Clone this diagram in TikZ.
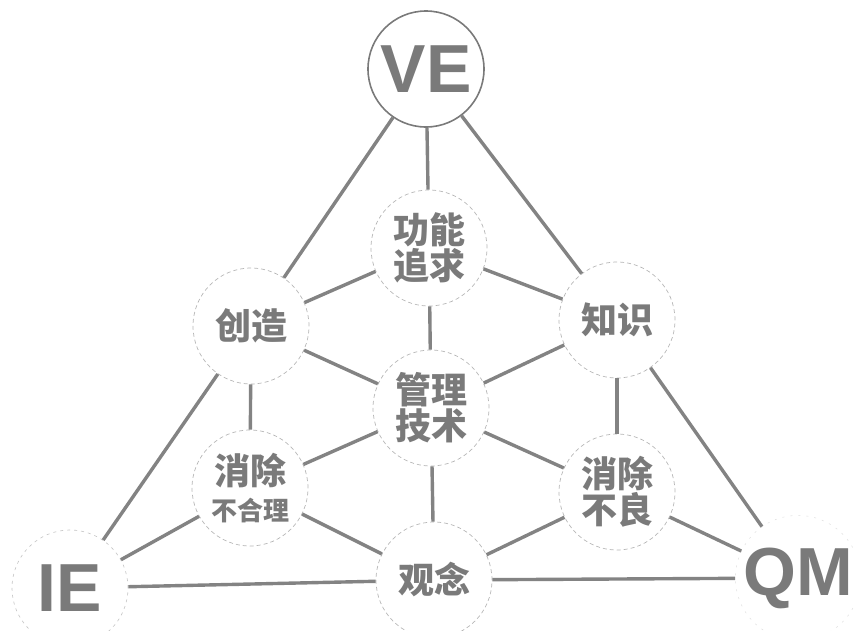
\documentclass[tikz,border=0pt]{standalone}
\usepackage{fontspec}
\setmainfont{Liberation Sans}
\newfontfamily\cjk{Noto Sans CJK SC}
\definecolor{ink}{HTML}{7A7A7A}
\definecolor{linegray}{HTML}{838383}
\begin{document}
\begin{tikzpicture}[x=1pt,y=-1pt,
  hub/.style={circle,minimum size=116pt,inner sep=0pt,draw=ink!55,line width=0.7pt,
    dash pattern=on 4pt off 3pt,text=ink,font=\cjk\bfseries\fontsize{36}{36}\selectfont,align=center},
  corner/.style={circle,minimum size=116pt,inner sep=0pt,text=ink,
    font=\bfseries\fontsize{68}{68}\selectfont},
  link/.style={draw=linegray,line width=3.4pt}]
\useasboundingbox (0,0) rectangle (854,630);
\node[corner,draw=ink,line width=1.6pt] (ve) at (426,69) {VE};
\node[corner,draw=ink!45,line width=0.6pt,dash pattern=on 3pt off 4pt] (ie) at (70,588) {IE};
\node[corner,draw=ink!25,line width=0.5pt,dash pattern=on 2pt off 6pt] (qm) at (798,578) {QM};
\node[hub] (gn) at (429,248) {功能\\追求};
\node[hub] (cz) at (251,326) {创造};
\node[hub] (zs) at (617,320) {知识};
\node[hub] (gl) at (431,408) {管理\\技术};
\node[hub] (xb) at (250,488) {消除\\{\fontsize{26}{28}\selectfont 不合理}};
\node[hub] (xl) at (617,492) {消除\\不良};
\node[hub] (gnn) at (434,580) {观念};
\draw[link] (ve) -- (gn);
\draw[link] (ve) -- (cz);
\draw[link] (ve) -- (zs);
\draw[link] (gn) -- (cz);
\draw[link] (gn) -- (zs);
\draw[link] (gn) -- (gl);
\draw[link] (cz) -- (gl);
\draw[link] (zs) -- (gl);
\draw[link] (cz) -- (xb);
\draw[link] (cz) -- (ie);
\draw[link] (zs) -- (xl);
\draw[link] (zs) -- (qm);
\draw[link] (gl) -- (xb);
\draw[link] (gl) -- (xl);
\draw[link] (gl) -- (gnn);
\draw[link] (xb) -- (ie);
\draw[link] (xb) -- (gnn);
\draw[link] (xl) -- (gnn);
\draw[link] (xl) -- (qm);
\draw[link] (ie) -- (gnn);
\draw[link] (gnn) -- (qm);
\end{tikzpicture}
\end{document}
